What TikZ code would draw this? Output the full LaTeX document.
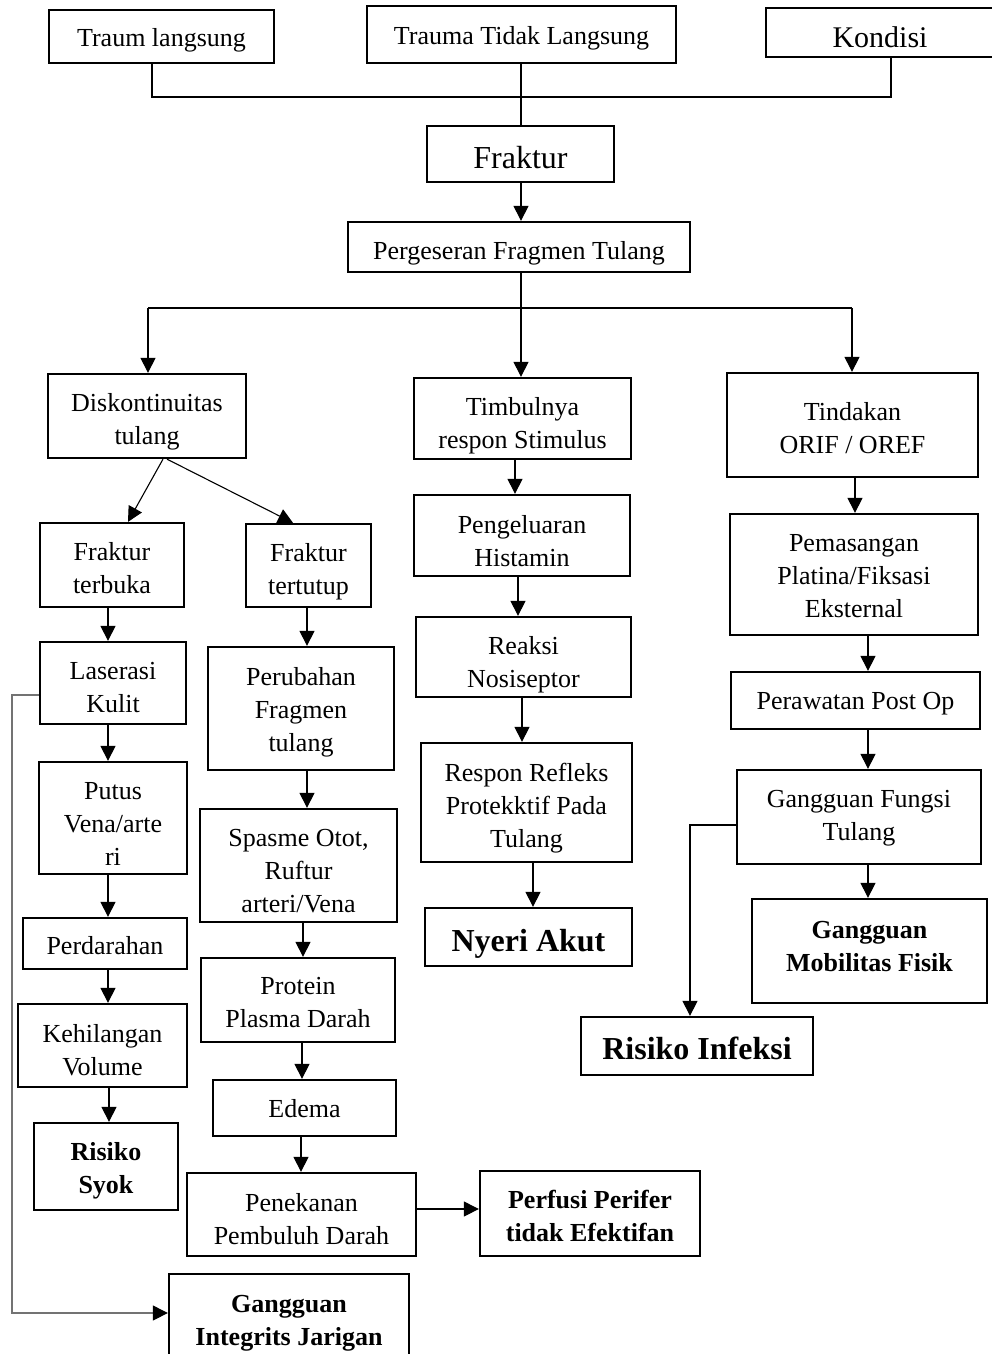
\documentclass[tikz,border=0pt]{standalone}
\usepackage{fontspec}
\setmainfont{Liberation Serif}
\usetikzlibrary{arrows.meta}
\newcommand\dl[2][5]{\raisebox{-#1pt}[\height][\depth]{#2}}
\begin{document}
\begin{tikzpicture}[x=1pt,y=-1pt,
  box/.style={draw, line width=2.3pt, align=center, inner sep=2pt, font=\fontsize{26}{33}\selectfont},
  bigbox/.style={box, font=\fontsize{32}{38}\selectfont},
  boldbig/.style={box, font=\bfseries\fontsize{32}{38}\selectfont},
  boldsmall/.style={box, font=\bfseries\fontsize{26}{33}\selectfont},
  conn/.style={line width=1.1pt},
  arr/.style={conn, -{Triangle[length=15pt,width=15pt]}},
  fbline/.style={conn, draw=black!55, -{Triangle[length=15pt,width=15pt,color=black]}}]
\useasboundingbox (0,0) rectangle (992,1354);
% top row
\node[box, minimum width=225pt, minimum height=53pt] (t1) at (161.5,36.5) {\dl[4]{Traum langsung}};
\node[box, minimum width=309pt, minimum height=57pt] (t2) at (521.5,34.5) {\dl[4]{Trauma Tidak Langsung}};
\node[box, font=\fontsize{30}{36}\selectfont, minimum width=236pt, minimum height=49pt, text width=220pt] (t3) at (884,32.5) {\hspace*{-8pt}\dl{Kondisi}};
\node[bigbox, minimum width=187pt, minimum height=56pt] (fr) at (520.5,154) {\dl[4]{Fraktur}};
\node[box, minimum width=342pt, minimum height=50pt] (pg) at (519,247) {\dl[6]{Pergeseran Fragmen Tulang}};
% level 3
\node[box, minimum width=198pt, minimum height=84pt] (dk) at (147,416) {\dl[6]{Diskontinuitas}\\\dl[6]{tulang}};
\node[box, minimum width=217pt, minimum height=81pt] (tb) at (522.5,418.5) {\dl[7]{Timbulnya}\\\dl[7]{respon Stimulus}};
\node[box, minimum width=251pt, minimum height=104pt] (ti) at (852.5,425) {\dl[3]{Tindakan}\\\dl[3]{ORIF / OREF}};
% left columns
\node[box, minimum width=144pt, minimum height=84pt] (fo) at (112,565) {\dl[3]{Fraktur}\\\dl[3]{terbuka}};
\node[box, minimum width=125pt, minimum height=83pt] (ft) at (308.5,565.5) {\dl[6]{Fraktur}\\\dl[6]{tertutup}};
\node[box, minimum width=146pt, minimum height=82pt] (la) at (113,683) {\dl{Laserasi}\\\dl{Kulit}};
\node[box, minimum width=186pt, minimum height=123pt] (pf) at (301,708.5) {\dl[4]{Perubahan}\\\dl[4]{Fragmen}\\\dl[4]{tulang}};
\node[box, minimum width=148pt, minimum height=112pt] (pv) at (113,818) {\dl[6]{Putus}\\\dl[6]{Vena/arte}\\\dl[6]{ri}};
\node[box, minimum width=197pt, minimum height=113pt] (sp) at (298.5,865.5) {\dl[6]{Spasme Otot,}\\\dl[6]{Ruftur}\\\dl[6]{arteri/Vena}};
\node[box, minimum width=164pt, minimum height=51pt] (pd) at (105,943.5) {\dl[2]{Perdarahan}};
\node[box, minimum width=194pt, minimum height=84pt] (pp) at (298,1000) {\dl[3]{Protein}\\\dl[3]{Plasma Darah}};
\node[box, minimum width=169pt, minimum height=83pt] (kv) at (102.5,1045.5) {\dl{Kehilangan}\\\dl{Volume}};
\node[boldsmall, minimum width=144pt, minimum height=87pt] (rs) at (106,1166.5) {\dl[4]{Risiko}\\\dl[4]{Syok}};
\node[box, minimum width=183pt, minimum height=56pt] (ed) at (304.5,1108) {\dl[1]{Edema}};
\node[box, minimum width=229pt, minimum height=83pt] (pn) at (301.5,1214.5) {\dl{Penekanan}\\\dl{Pembuluh Darah}};
\node[boldsmall, minimum width=220pt, minimum height=85pt] (pe) at (590,1213.5) {\dl[2]{Perfusi Perifer}\\\dl[2]{tidak Efektifan}};
\node[boldsmall, minimum width=240pt, minimum height=88pt] (gi) at (289,1318) {\dl{Gangguan}\\\dl{Integrits Jarigan}};
% middle column
\node[box, minimum width=216pt, minimum height=81pt] (ph) at (522,535.5) {\dl[6]{Pengeluaran}\\\dl[6]{Histamin}};
\node[box, minimum width=215pt, minimum height=80pt] (rn) at (523.5,657) {\dl[8]{Reaksi}\\\dl[8]{Nosiseptor}};
\node[box, minimum width=211pt, minimum height=119pt] (rr) at (526.5,802.5) {\dl[6]{Respon Refleks}\\\dl[6]{Protekktif Pada}\\\dl[6]{Tulang}};
\node[boldbig, minimum width=207pt, minimum height=58pt] (na) at (528.5,937) {\dl[7]{Nyeri Akut}};
% right column
\node[box, minimum width=248pt, minimum height=121pt] (pm) at (854,574.5) {\dl[2]{Pemasangan}\\\dl[2]{Platina/Fiksasi}\\\dl[2]{Eksternal}};
\node[box, minimum width=249pt, minimum height=57pt] (po) at (855.5,700.5) {\dl[3]{Perawatan Post Op}};
\node[box, minimum width=244pt, minimum height=94pt] (gf) at (859,817) {\dl[1]{Gangguan Fungsi}\\\dl[1]{Tulang}};
\node[boldsmall, minimum width=235pt, minimum height=104pt] (gm) at (869.5,951) {\dl[-4]{Gangguan}\\\dl[-4]{Mobilitas Fisik}};
\node[boldbig, minimum width=232pt, minimum height=58pt] (ri) at (697,1046) {\dl[2]{Risiko Infeksi}};
% top connectors
\coordinate (j1) at (152,97);
\coordinate (j3) at (891,97);
\draw[conn] (t1.south -| j1) -- (j1) -- (j3) -- (t3.south -| j3);
\draw[conn] (t2.south -| 521,0) -- (fr.north -| 521,0);
\draw[arr] (fr.south -| 521,0) -- (pg.north -| 521,0);
% branch
\coordinate (b0) at (521,308);
\coordinate (bL) at (148,308);
\coordinate (bR) at (852,308);
\draw[conn] (pg.south -| b0) -- (b0);
\draw[conn] (bL) -- (bR);
\draw[arr] (bL) -- (dk.north -| bL);
\draw[arr] (b0) -- (tb.north -| b0);
\draw[arr] (bR) -- (ti.north -| bR);
% left
\draw[arr] (dk.south -| 163,0) -- (fo.north -| 128,0);
\draw[arr] (dk.south -| 167,0) -- (ft.north -| 293,0);
\draw[arr] (fo.south -| 108,0) -- (la.north -| 108,0);
\draw[arr] (ft.south -| 307,0) -- (pf.north -| 307,0);
\draw[arr] (la.south -| 108,0) -- (pv.north -| 108,0);
\draw[arr] (pf.south -| 307,0) -- (sp.north -| 307,0);
\draw[arr] (pv.south -| 108,0) -- (pd.north -| 108,0);
\draw[arr] (sp.south -| 303,0) -- (pp.north -| 303,0);
\draw[arr] (pd.south -| 108,0) -- (kv.north -| 108,0);
\draw[arr] (pp.south -| 302,0) -- (ed.north -| 302,0);
\draw[arr] (kv.south -| 109,0) -- (rs.north -| 109,0);
\draw[arr] (ed.south -| 301,0) -- (pn.north -| 301,0);
\draw[arr] (pn.east |- 0,1209) -- (pe.west |- 0,1209);
\coordinate (f1) at (12,695);
\coordinate (f2) at (12,1313);
\draw[fbline] (la.west |- f1) -- (f1) -- (f2) -- (gi.west |- f2);
% middle
\draw[arr] (tb.south -| 515,0) -- (ph.north -| 515,0);
\draw[arr] (ph.south -| 518,0) -- (rn.north -| 518,0);
\draw[arr] (rn.south -| 522,0) -- (rr.north -| 522,0);
\draw[arr] (rr.south -| 533,0) -- (na.north -| 533,0);
% right
\draw[arr] (ti.south -| 855,0) -- (pm.north -| 855,0);
\draw[arr] (pm.south -| 868,0) -- (po.north -| 868,0);
\draw[arr] (po.south -| 868,0) -- (gf.north -| 868,0);
\draw[arr] (gf.south -| 868,0) -- (gm.north -| 868,0);
\coordinate (r0) at (690,825);
\draw[arr] (gf.west |- r0) -- (r0) -- (ri.north -| r0);
\end{tikzpicture}
\end{document}
